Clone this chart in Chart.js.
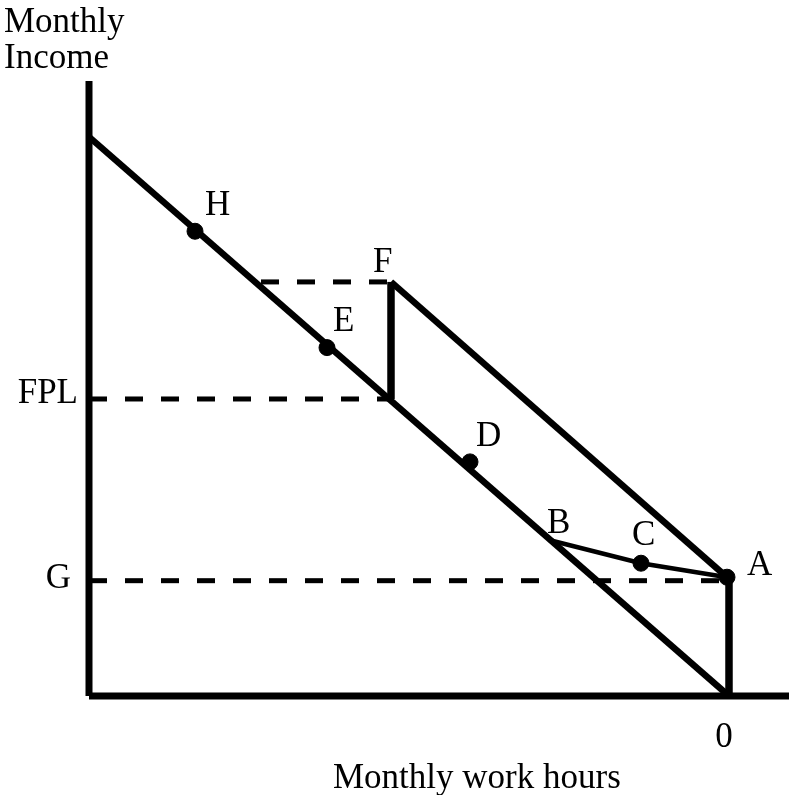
<!DOCTYPE html>
<html lang="en">
<head>
    <meta charset="UTF-8">
    <title>Monthly income vs monthly work hours</title>
    <script src="https://cdn.jsdelivr.net/npm/chart.js"></script>
    <style>
        body {
            margin: 0;
            background: #fff;
        }
        #wrap {
            width: 789px;
            height: 795px;
        }
    </style>
</head>
<body>
    <div id="wrap"><canvas id="chart"></canvas></div>

    <script>
        // hours run leftwards from 0, income upwards from 0
        const axisHours = [160, -15];
        const axisIncome = [0, 1760];

        const budgetHours = [160, 0];
        const budgetIncome = [1600, 0];

        const upperHours = [84.5, 0.5];
        const upperIncome = [1185, 340];

        const notchHours = [84.5, 84.5];
        const notchIncome = [850, 1185];

        const dropHours = [0, 0];
        const dropIncome = [0, 340];

        const kinkHours = [44.5, 22, 0.5];
        const kinkIncome = [445, 380, 340];

        const refNames = ['FPL', 'G', 'F'];
        const refLevels = [850, 330, 1185];
        const refFrom = [160, 160, 117];
        const refTo = [85, 2, 84.5];

        const pointNames = ['H', 'E', 'D', 'C', 'A'];
        const pointHours = [133.5, 100.5, 64.75, 22, 0.5];
        const pointIncome = [1330, 997, 670, 380, 340];

        const zeroTick = ['0'];

        const pts = (xs, ys) => xs.map((x, i) => ({ x: x, y: ys[i] }));

        function seg(data, width, dash) {
            return {
                type: 'line',
                data: data,
                borderColor: '#000',
                borderWidth: width,
                borderDash: dash || [],
                pointRadius: 0,
                tension: 0,
                clip: false,
                borderCapStyle: 'butt'
            };
        }

        const datasets = [
            seg(pts([axisHours[0], axisHours[1]], [0, 0]), 7),
            seg(pts([axisHours[0], axisHours[0]], [0, axisIncome[1]]), 7),
            seg(pts(budgetHours, budgetIncome), 6.5),
            seg(pts(upperHours, upperIncome), 6.5),
            seg(pts(notchHours, notchIncome), 7.5),
            seg(pts(dropHours, dropIncome), 7.5),
            seg(pts(kinkHours, kinkIncome), 4.5)
        ];
        refLevels.forEach((lvl, i) => {
            datasets.push(seg(pts([refFrom[i], refTo[i]], [lvl, lvl]), 5, [18, 18]));
        });
        datasets.push({
            type: 'scatter',
            data: pts(pointHours, pointIncome),
            backgroundColor: '#000',
            borderColor: '#000',
            pointRadius: 8,
            clip: false
        });

        // label placement, pixels from the anchor
        const labelNudge = {
            H: [10, -16], E: [6, -17], D: [6, -16], C: [-9, -18], A: [20, -2],
            B: [-4, -8], F: [-18, -10]
        };

        const textPlugin = {
            id: 'texts',
            afterDatasetsDraw(chart) {
                const ctx = chart.ctx;
                const xs = chart.scales.x, ys = chart.scales.y;
                ctx.save();
                ctx.fillStyle = '#000';
                ctx.font = '35px "Liberation Serif", "Times New Roman", serif';
                ctx.textBaseline = 'alphabetic';

                ctx.textAlign = 'left';
                pointNames.forEach((n, i) => {
                    const d = labelNudge[n];
                    ctx.fillText(n, xs.getPixelForValue(pointHours[i]) + d[0],
                        ys.getPixelForValue(pointIncome[i]) + d[1]);
                });
                ctx.fillText('B', xs.getPixelForValue(kinkHours[0]) + labelNudge.B[0],
                    ys.getPixelForValue(kinkIncome[0]) + labelNudge.B[1]);
                ctx.fillText('F', xs.getPixelForValue(notchHours[1]) + labelNudge.F[0],
                    ys.getPixelForValue(refLevels[2]) + labelNudge.F[1]);

                // level labels on the income axis
                ctx.textAlign = 'right';
                const left = xs.getPixelForValue(axisHours[0]);
                ctx.fillText(refNames[0], left - 11, ys.getPixelForValue(refLevels[0]) + 4);
                ctx.fillText(refNames[1], left - 18, ys.getPixelForValue(refLevels[1]) + 7);

                ctx.textAlign = 'center';
                ctx.fillText(zeroTick[0], xs.getPixelForValue(0) - 5, 747);

                ctx.textAlign = 'left';
                ctx.fillText('Monthly', 4, 32);
                ctx.fillText('Income', 4, 68);
                ctx.fillText('Monthly work hours', 333, 788);
                ctx.restore();
            }
        };

        new Chart(document.getElementById('chart'), {
            type: 'line',
            data: { datasets: datasets },
            options: {
                responsive: true,
                maintainAspectRatio: false,
                animation: false,
                layout: {
                    autoPadding: false,
                    padding: { left: 89, right: 0, top: 81, bottom: 99 }
                },
                scales: {
                    x: {
                        type: 'linear',
                        reverse: true,
                        min: axisHours[1],
                        max: axisHours[0],
                        display: false
                    },
                    y: {
                        type: 'linear',
                        min: axisIncome[0],
                        max: axisIncome[1],
                        display: false
                    }
                },
                plugins: {
                    legend: { display: false },
                    tooltip: { enabled: false }
                }
            },
            plugins: [textPlugin]
        });
    </script>
</body>
</html>
